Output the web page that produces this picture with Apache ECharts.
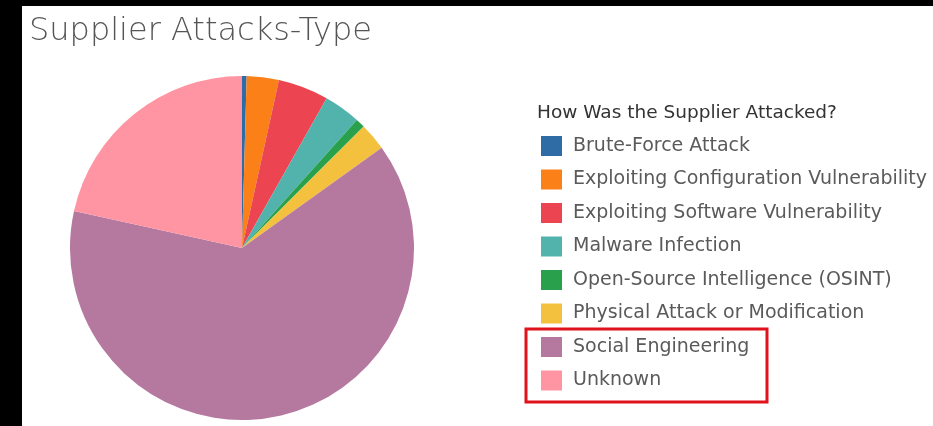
<!DOCTYPE html>
<html>
<head>
<meta charset="utf-8">
<script src="https://cdn.jsdelivr.net/npm/echarts@6/dist/echarts.min.js"></script>
<style>
	html, body { margin: 0; padding: 0; background: #000; }
	#wrap { position: relative; width: 933px; height: 426px; background: #000; overflow: hidden; }
	#attackType { position: absolute; left: 22px; top: 6px; width: 911px; height: 420px; background: #fff; }
</style>
</head>
<body>
<div id="wrap"><div id="attackType"></div></div>
<script>
// 攻击类型
var attackNames = [ 'Brute-Force Attack', 'Exploiting Configuration Vulnerability',
	'Exploiting Software Vulnerability', 'Malware Infection',
	'Open-Source Intelligence (OSINT)', 'Physical Attack or Modification',
	'Social Engineering', 'Unknown' ];
var attackCounts = [ 1, 7, 11, 8, 2, 6, 147, 50 ];
var attackColors = [ '#2f6ba4', '#fb8018', '#ec4450', '#52b3ad', '#28a04c', '#f4c13f', '#b5789f', '#ff95a2' ];

var attackjson = [];
for (var i = 0; i < attackNames.length; i++) {
	attackjson.push({ name : attackNames[i], value : attackCounts[i], itemStyle : { color : attackColors[i] } });
}

var attackOption = {
	animation : false,
	title : [ {
		text : 'Supplier Attacks-Type',
		left : 7,
		top : 10,
		padding : 0,
		textStyle : { fontFamily : 'DejaVu Sans', fontWeight : 200, fontSize : 32, color : '#555' }
	}, {
		text : 'How Was the Supplier Attacked?',
		left : 515,
		top : 98,
		padding : 0,
		textStyle : { fontFamily : 'DejaVu Sans', fontWeight : 'normal', fontSize : 18.5, color : '#333' }
	} ],
	legend : {
		orient : 'vertical',
		left : 519,
		top : 130,
		padding : 0,
		itemWidth : 21,
		itemHeight : 20,
		itemGap : 13.5,
		icon : 'rect',
		data : attackNames,
		textStyle : { fontFamily : 'DejaVu Sans', fontSize : 19, color : '#5a5a5a', padding : [ 0, 0, 0, 6 ] }
	},
	series : [ {
		name : 'Supplier Attacks-Type',
		type : 'pie',
		radius : 172,// 饼图的半径大小
		center : [ 220, 242 ],// 饼图的位置
		startAngle : 90,
		label : { show : false },
		labelLine : { show : false },
		emphasis : { disabled : true },
		itemStyle : { borderWidth : 0 },
		data : attackjson
	} ],
	graphic : [ {
		type : 'rect',
		shape : { x : 504, y : 323, width : 241, height : 73 },
		style : { fill : null, stroke : '#e0121c', lineWidth : 3 }
	} ]
};
var attackType = echarts.init(document.getElementById('attackType'));
attackType.setOption(attackOption);
</script>
</body>
</html>
